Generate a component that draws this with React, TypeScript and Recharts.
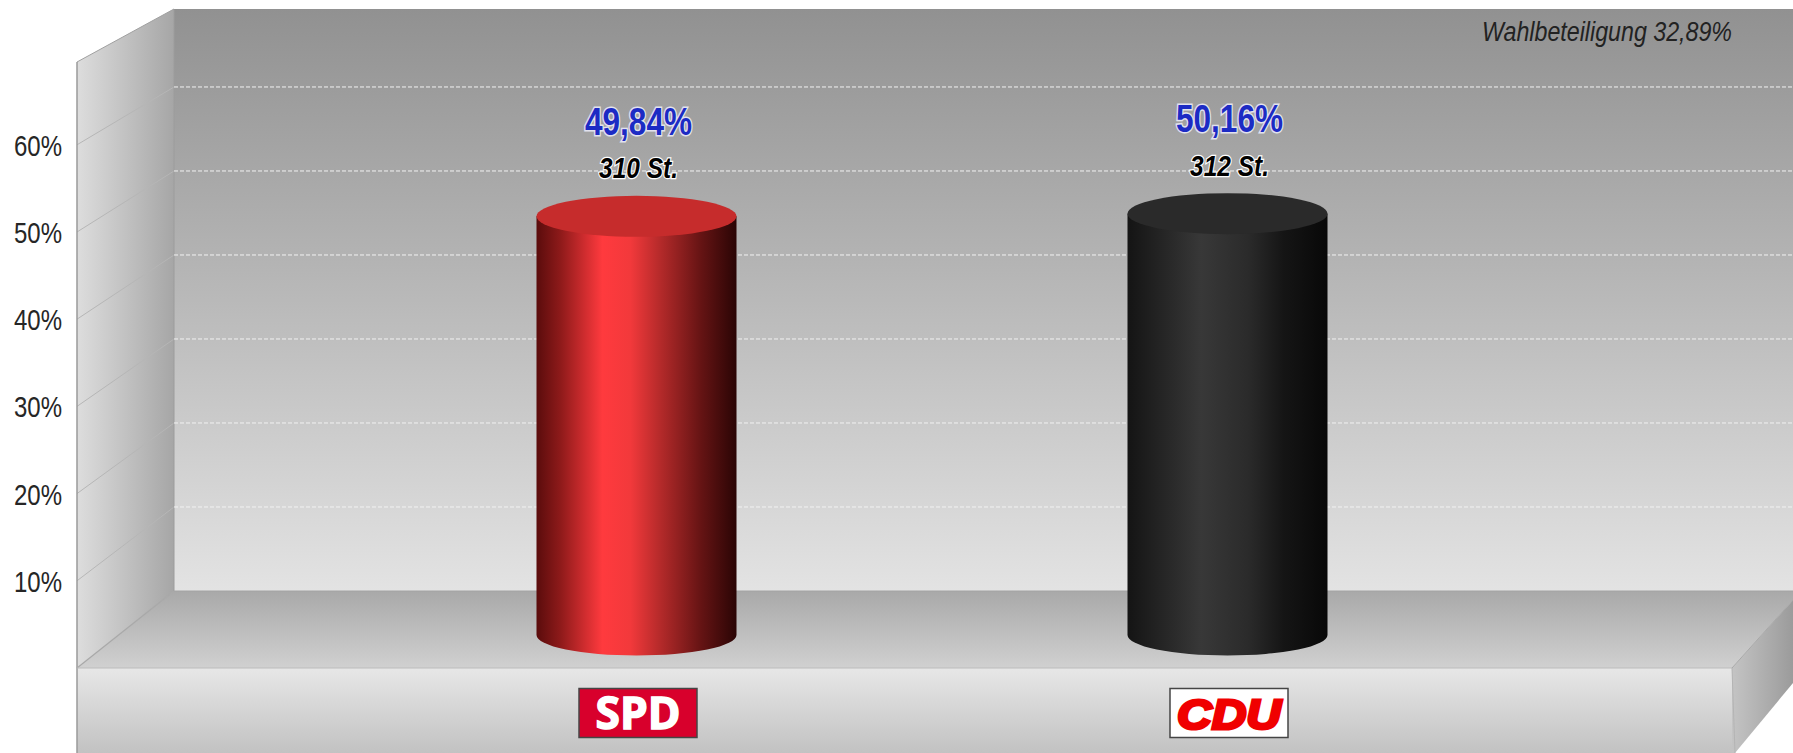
import { Bar, BarChart, CartesianGrid, LabelList, XAxis, YAxis } from 'recharts';

const parties = ['SPD', 'CDU'];
const shares = [49.84, 50.16];
const shareLabels = ['49,84%', '50,16%'];
const seatLabels = ['310 St.', '312 St.'];
const percentTicks = [10, 20, 30, 40, 50, 60];
const turnoutLabel = 'Wahlbeteiligung 32,89%';

const data = parties.map((party, i) => ({
    party,
    share: shares[i],
    shareLabel: shareLabels[i],
    seatLabel: seatLabels[i],
}));

const WIDTH = 1793;
const HEIGHT = 753;
const FONT = '"Liberation Sans", Arial, sans-serif';

// the box is drawn with two perspectives, front edge and back wall have their own scale
const frontY = (v: number) => 668 - 8.72 * v;
const backY = (v: number) => 591 - 8.4 * v;

const Backdrop = () => (
    <svg width={WIDTH} height={HEIGHT} style={{ position: 'absolute', left: 0, top: 0 }}>
        <defs>
            <linearGradient id="wall" x1="0" y1="0" x2="0" y2="1">
                <stop offset="0" stopColor="#919191" />
                <stop offset="0.5" stopColor="#b9b9b9" />
                <stop offset="1" stopColor="#e3e3e3" />
            </linearGradient>
            <linearGradient id="side" x1="0" y1="0" x2="1" y2="0">
                <stop offset="0" stopColor="#dddddd" />
                <stop offset="1" stopColor="#a6a6a6" />
            </linearGradient>
            <linearGradient id="floor" x1="0" y1="0" x2="0" y2="1">
                <stop offset="0" stopColor="#a9a9a9" />
                <stop offset="1" stopColor="#d0d0d0" />
            </linearGradient>
            <linearGradient id="front" x1="0" y1="0" x2="0" y2="1">
                <stop offset="0" stopColor="#e7e7e7" />
                <stop offset="1" stopColor="#c2c2c2" />
            </linearGradient>
            <linearGradient id="rightSide" x1="0" y1="0" x2="1" y2="0">
                <stop offset="0" stopColor="#c4c4c4" />
                <stop offset="1" stopColor="#9b9b9b" />
            </linearGradient>
        </defs>
        <rect x={174} y={9} width={WIDTH - 174} height={582} fill="url(#wall)" />
        <polygon points="77,62 174,9 174,591 77,668" fill="url(#side)" />
        <polygon points={`174,591 ${WIDTH},591 ${WIDTH},600 1732,668 77,668`} fill="url(#floor)" />
        <rect x={77} y={668} width={1655} height={85} fill="url(#front)" />
        <polygon points={`1732,668 ${WIDTH},600 ${WIDTH},683 1735,753 1732,753`} fill="url(#rightSide)" />
        {percentTicks.map((v) => (
            <line key={v} x1={77} y1={frontY(v)} x2={174} y2={backY(v)} stroke="#b6b6b6" />
        ))}
        <line x1={77} y1={668} x2={174} y2={591} stroke="#a8a8a8" strokeWidth={1.2} />
        <line x1={77} y1={62} x2={174} y2={9} stroke="#a0a0a0" />
        <line x1={77} y1={62} x2={77} y2={753} stroke="#9a9a9a" strokeWidth={1.5} />
        <line x1={174} y1={9} x2={174} y2={591} stroke="#9c9c9c" />
        <line x1={77} y1={668} x2={1732} y2={668} stroke="#bcbcbc" />
        <line x1={174} y1={591} x2={WIDTH} y2={591} stroke="#a4a4a4" />
        <line x1={1732} y1={668} x2={WIDTH} y2={600} stroke="#a8a8a8" />
        <line x1={1732} y1={668} x2={1735} y2={753} stroke="#b4b4b4" />
        <text
            x={1482}
            y={41}
            fontFamily={FONT}
            fontStyle="italic"
            fontSize={27}
            fill="#222222"
            textLength={250}
            lengthAdjust="spacingAndGlyphs"
        >
            {turnoutLabel}
        </text>
    </svg>
);

const PercentTick = ({ y, payload }: any) => (
    <text
        x={14}
        y={y + 11}
        fontFamily={FONT}
        fontSize={30}
        fill="#262626"
        textLength={48}
        lengthAdjust="spacingAndGlyphs"
    >
        {`${payload.value}%`}
    </text>
);

const PartyLogo = ({ x, y, payload }: any) => {
    const isSpd = payload.value === 'SPD';
    const top = y + 51.5;
    const left = x - 57;
    return (
        <g>
            <rect x={left} y={top} width={118} height={49} fill={isSpd ? '#d8002c' : '#ffffff'} stroke="#454545" strokeWidth={1.5} />
            <text
                x={left + 59}
                y={top + 40}
                textAnchor="middle"
                fontFamily={isSpd ? '"Open Sans", sans-serif' : '"Liberation Sans", sans-serif'}
                fontWeight={700}
                fontStyle={isSpd ? 'normal' : 'italic'}
                fontSize={isSpd ? 45 : 43}
                fill={isSpd ? '#ffffff' : '#f00000'}
                stroke={isSpd ? '#ffffff' : '#f00000'}
                strokeWidth={isSpd ? 1.5 : 3}
                textLength={isSpd ? 85 : 104}
                lengthAdjust="spacingAndGlyphs"
            >
                {payload.value}
            </text>
        </g>
    );
};

const Cylinder = ({ x, y, width, height, index }: any) => {
    const rx = width / 2;
    const ry = 20.5;
    const cx = x + rx;
    const bottom = y + height;
    const body = `M${x},${y} L${x},${bottom} A${rx},${ry} 0 0 0 ${x + width},${bottom} L${x + width},${y} Z`;
    return (
        <g>
            <path d={body} fill={index === 0 ? 'url(#redBody)' : 'url(#blackBody)'} />
            <ellipse cx={cx} cy={y} rx={rx} ry={ry} fill={index === 0 ? '#c62c2c' : '#2a2a2a'} />
        </g>
    );
};

const ShareLabel = ({ x, y, width, value }: any) => (
    <text
        x={x + width / 2 + 2}
        y={y - 81.5}
        textAnchor="middle"
        fontFamily={FONT}
        fontWeight={700}
        fontSize={38}
        fill="#1c2bc4"
        stroke="#e2e2ee"
        strokeWidth={3}
        paintOrder="stroke"
        textLength={107}
        lengthAdjust="spacingAndGlyphs"
    >
        {value}
    </text>
);

const SeatLabel = ({ x, y, width, value }: any) => (
    <text
        x={x + width / 2 + 2}
        y={y - 38}
        textAnchor="middle"
        fontFamily={FONT}
        fontWeight={700}
        fontStyle="italic"
        fontSize={30}
        fill="#000000"
        stroke="#ffffff"
        strokeWidth={2.5}
        paintOrder="stroke"
        textLength={79}
        lengthAdjust="spacingAndGlyphs"
    >
        {value}
    </text>
);

export default function App() {
    return (
        <div style={{ position: 'absolute', left: 0, top: 0, width: WIDTH, height: HEIGHT, overflow: 'hidden', background: '#ffffff' }}>
            <Backdrop />
            <div style={{ position: 'absolute', left: 0, top: 0 }}>
                <BarChart width={WIDTH} height={HEIGHT} data={data} margin={{ top: 47, right: 0, bottom: 0, left: 0 }}>
                    <defs>
                        <linearGradient id="redBody" x1="0" y1="0" x2="1" y2="0">
                            <stop offset="0" stopColor="#5a0c0c" />
                            <stop offset="0.12" stopColor="#8e1a1a" />
                            <stop offset="0.33" stopColor="#ff3a3e" />
                            <stop offset="0.47" stopColor="#f2393b" />
                            <stop offset="0.62" stopColor="#b42a2a" />
                            <stop offset="0.82" stopColor="#661414" />
                            <stop offset="1" stopColor="#2a0505" />
                        </linearGradient>
                        <linearGradient id="blackBody" x1="0" y1="0" x2="1" y2="0">
                            <stop offset="0" stopColor="#141414" />
                            <stop offset="0.37" stopColor="#383838" />
                            <stop offset="0.6" stopColor="#2b2b2b" />
                            <stop offset="0.78" stopColor="#151515" />
                            <stop offset="1" stopColor="#080808" />
                        </linearGradient>
                    </defs>
                    <CartesianGrid
                        yAxisId="back"
                        vertical={false}
                        horizontalValues={percentTicks}
                        stroke="#f2f2f2"
                        strokeDasharray="4 2"
                    />
                    <XAxis
                        dataKey="party"
                        height={118}
                        axisLine={false}
                        tickLine={false}
                        tickSize={0}
                        interval={0}
                        padding={{ left: 166.5, right: 270.5 }}
                        tick={PartyLogo}
                    />
                    <YAxis
                        yAxisId="front"
                        type="number"
                        width={174}
                        domain={[3.78, 71.2]}
                        allowDataOverflow
                        ticks={percentTicks}
                        axisLine={false}
                        tickLine={false}
                        tick={PercentTick}
                    />
                    <YAxis yAxisId="back" type="number" hide domain={[-5.24, 64.76]} allowDataOverflow />
                    <YAxis yAxisId="bars" type="number" hide domain={[0, 70]} />
                    <Bar yAxisId="bars" dataKey="share" barSize={200} shape={Cylinder} isAnimationActive={false}>
                        <LabelList dataKey="shareLabel" content={ShareLabel} />
                        <LabelList dataKey="seatLabel" content={SeatLabel} />
                    </Bar>
                </BarChart>
            </div>
        </div>
    );
}
